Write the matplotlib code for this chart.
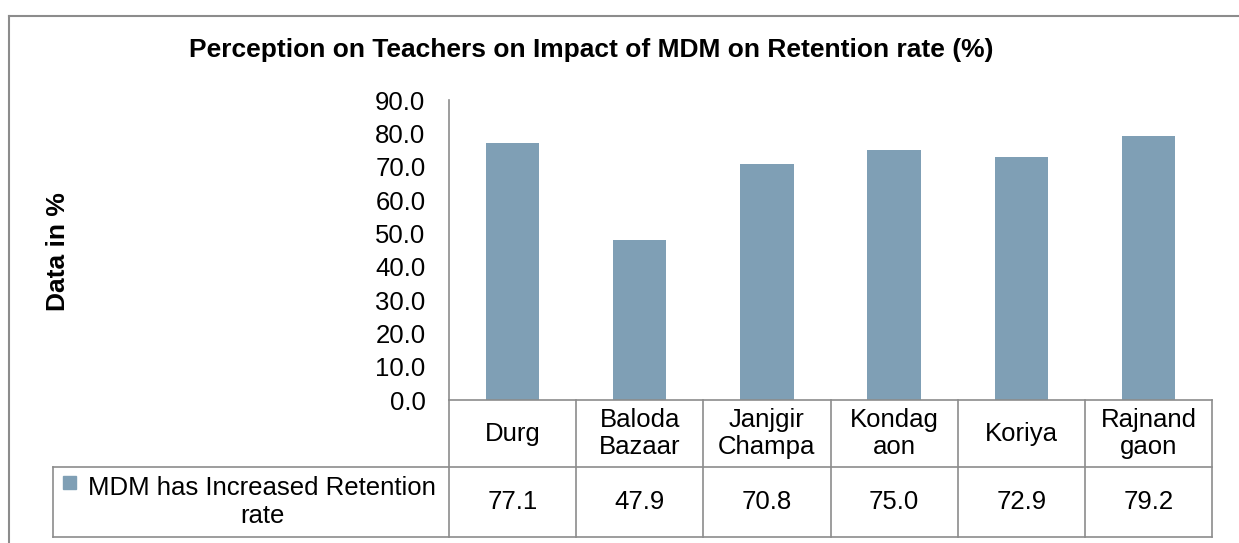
import numpy as np
import matplotlib
matplotlib.use('Agg')
import matplotlib.pyplot as plt
from matplotlib.patches import Rectangle
from matplotlib.lines import Line2D

plt.rcParams['font.family'] = ['Liberation Sans', 'DejaVu Sans']

districts = ['Durg', 'Baloda\nBazaar', 'Janjgir\nChampa', 'Kondag\naon', 'Koriya', 'Rajnand\ngaon']
retention = [77.1, 47.9, 70.8, 75.0, 72.9, 79.2]
series_name = 'MDM has Increased Retention\nrate'
y_ticks = np.arange(0, 91, 10)

BarColor = '#7F9FB5'
GridGrey = '#8C8C8C'
FS = 18.5

W, H = 1239, 543
fig = plt.figure(figsize=(W / 100, H / 100), dpi=100)

# outer chart border (open on right and bottom)
fig.add_artist(Line2D([9 / W, 9 / W], [0, 1 - 16 / H], color='#8C8C8C', lw=1.5))
fig.add_artist(Line2D([9 / W, 1], [1 - 16 / H, 1 - 16 / H], color='#8C8C8C', lw=1.5))

ax = fig.add_axes([449 / W, 1 - 400 / H, 763 / W, 300 / H])
x = np.arange(len(districts))
ax.bar(x, retention, 0.42, color=BarColor)
ax.set_xlim(-0.5, len(districts) - 0.5)
ax.set_ylim(0, 90)
ax.set_yticks(y_ticks)
ax.set_yticklabels([f'{v:.1f}' for v in y_ticks], fontsize=FS)
ax.tick_params(axis='y', length=0, pad=17)
ax.set_xticks([])
for s in ['top', 'right', 'bottom']:
    ax.spines[s].set_visible(False)
ax.spines['left'].set_color(GridGrey)
ax.spines['left'].set_linewidth(1.2)

# data table under the axis
head_bot = -67 / 300
row_bot = -137 / 300
leg_left = (53 - 449) / 763
tr = ax.transAxes
line_kw = dict(color=GridGrey, lw=1.2, transform=tr, clip_on=False)

ax.plot([0, 1], [0, 0], **line_kw)
ax.plot([leg_left, 1], [head_bot, head_bot], **line_kw)
ax.plot([leg_left, 1], [row_bot, row_bot], **line_kw)
ax.plot([leg_left, leg_left], [head_bot, row_bot], **line_kw)
n = len(districts)
for i in range(n + 1):
    ax.plot([i / n, i / n], [0, row_bot], **line_kw)

for i, (name, val) in enumerate(zip(districts, retention)):
    cx = (i + 0.5) / n
    ax.text(cx, head_bot / 2, name, transform=tr, ha='center', va='center',
            fontsize=FS, linespacing=1.2)
    ax.text(cx, (head_bot + row_bot) / 2, f'{val:.1f}', transform=tr,
            ha='center', va='center', fontsize=FS)

ax.text((262 - 449) / 763, (head_bot + row_bot) / 2, series_name, transform=tr,
        ha='center', va='center', fontsize=FS, linespacing=1.2)
ax.add_patch(Rectangle(((63 - 449) / 763, -(489 - 400) / 300), 13 / 763, 13 / 300,
                       transform=tr, color=BarColor, clip_on=False))

fig.text(591 / W, 1 - 50 / H, 'Perception on Teachers on Impact of MDM on Retention rate (%)',
         ha='center', va='center', fontsize=19, fontweight='bold')
fig.text(58 / W, 1 - 252 / H, 'Data in %', ha='center', va='center', rotation=90,
         fontsize=19, fontweight='bold')

plt.savefig('out.png', dpi=100)
plt.close()
